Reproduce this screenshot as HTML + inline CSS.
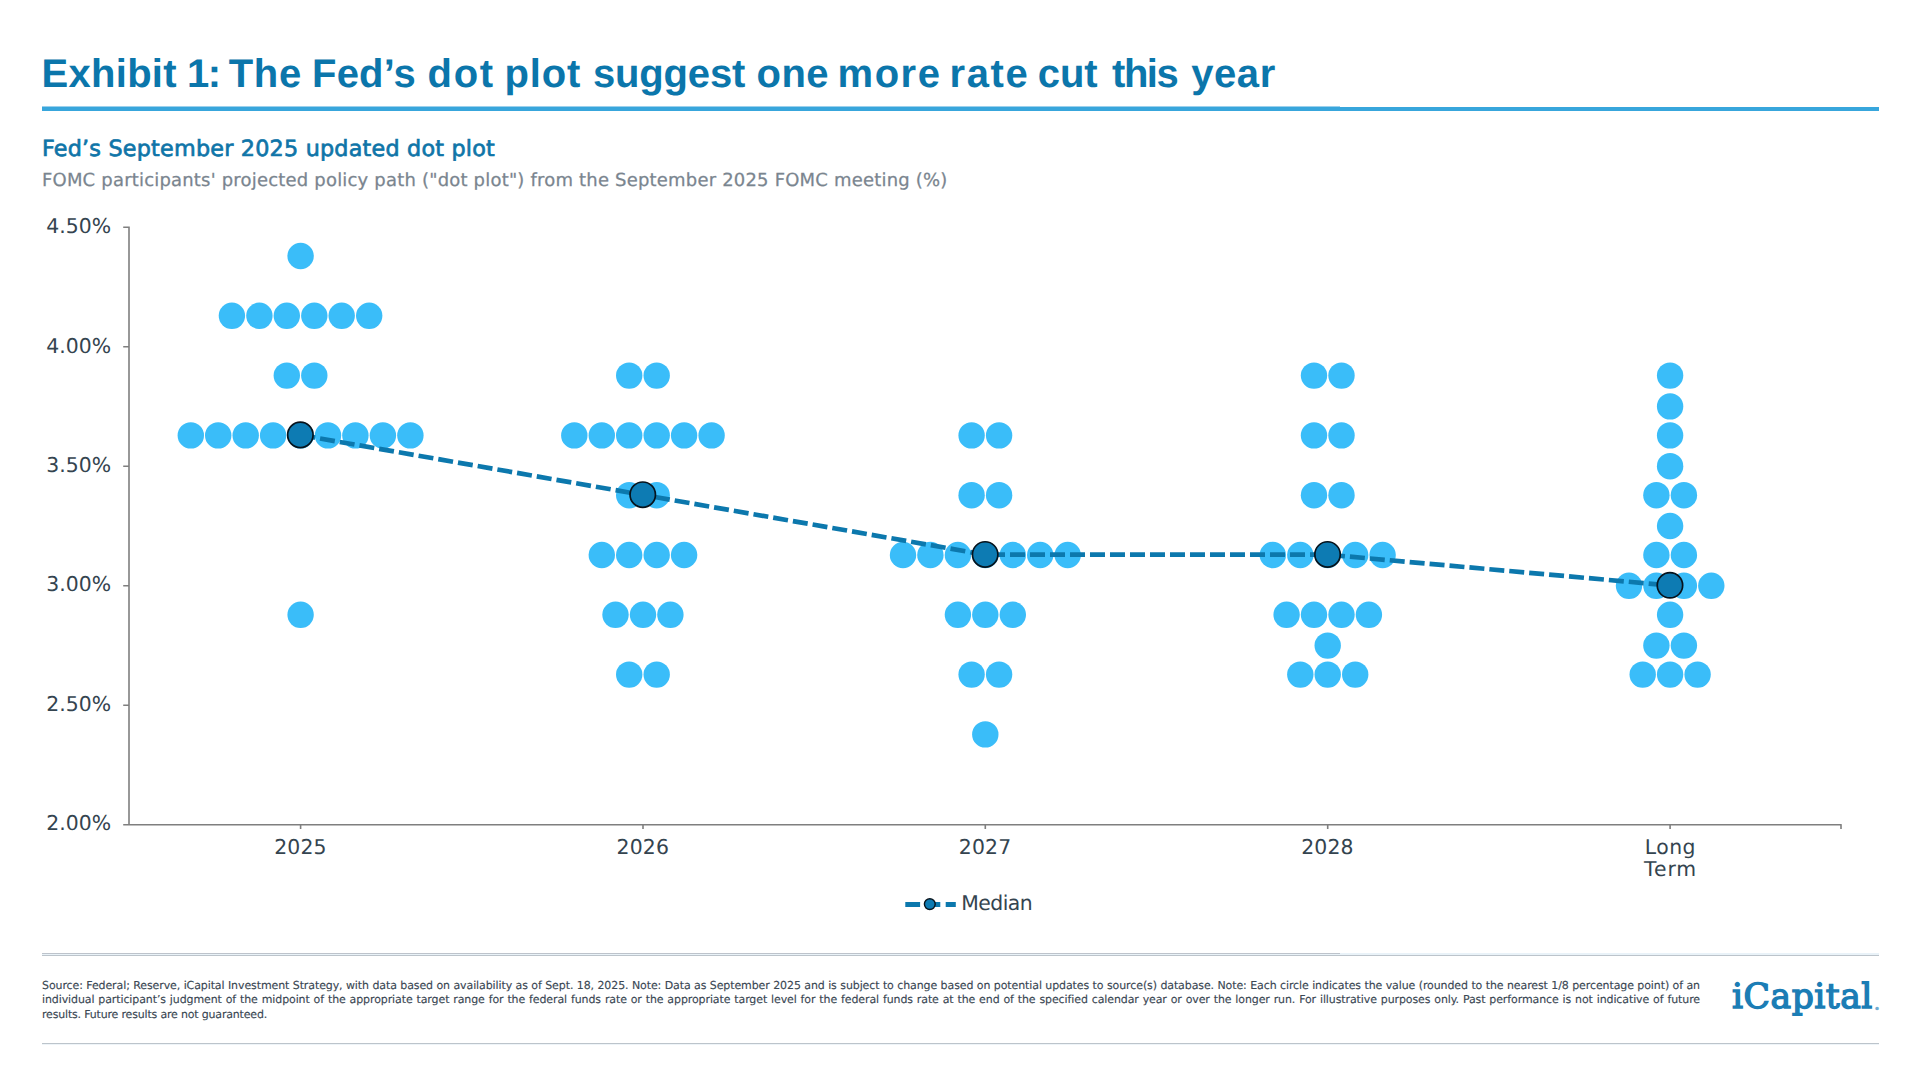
<!DOCTYPE html>
<html lang="en"><head><meta charset="utf-8"><title>Exhibit 1</title>
<style>
html,body{margin:0;padding:0;background:#fff;}
body{width:1920px;height:1080px;position:relative;overflow:hidden;font-family:"DejaVu Sans","Liberation Sans",sans-serif;}
.abs{position:absolute;white-space:nowrap;}
.sk{transform:skewX(0.03deg);transform-origin:0 50%;}
#title{left:0;top:49.5px;width:1400px;height:46px;font:bold 40px/46px "Liberation Sans",sans-serif;color:#0b76ab;}
#title span{position:absolute;top:0;white-space:pre;}
#rule{left:42px;top:107px;width:1837px;height:4px;background:#38a6dc;}
#rule2{left:42px;top:106px;width:1298px;height:1px;background:#9bd0ec;}
#sub{left:42px;top:133.7px;font-size:22.3px;line-height:28px;color:#0f75a8;letter-spacing:0.2px;-webkit-text-stroke:0.7px #0f75a8;}
#desc{left:42px;top:167.5px;font-size:18px;line-height:24px;color:#7a858f;letter-spacing:0.19px;-webkit-text-stroke:0.25px #7a858f;}
.hr{left:42px;width:1837px;height:1px;background:#bcc4cb;}
#foot{left:42px;top:979.2px;width:1658px;font-size:11px;line-height:14.35px;color:#3b4854;letter-spacing:-0.1px;-webkit-text-stroke:0.15px #3b4854;white-space:normal;}
#foot div{text-align:justify;text-align-last:justify;white-space:nowrap;}
#foot div.last{text-align-last:left;letter-spacing:-0.18px;}
#logo{left:1731.7px;top:973.3px;font:34.6px/46px "DejaVu Serif","Liberation Serif",serif;color:#1b7db5;letter-spacing:0.5px;-webkit-text-stroke:1.4px #1b7db5;}
#logo sup{font:4px/6px "DejaVu Sans",sans-serif;position:absolute;left:143px;top:32.6px;letter-spacing:0;color:#6fabd0;-webkit-text-stroke:0.5px #6fabd0;}
svg{position:absolute;left:0;top:0;}
svg text{font-family:"DejaVu Sans","Liberation Sans",sans-serif;font-size:20.4px;fill:#34444f;}
</style></head><body>
<div id="title" class="abs sk"><span style="left:41.5px;letter-spacing:0.29px">Exhibit </span><span style="left:186.9px;letter-spacing:-1.50px">1: </span><span style="left:228.8px;letter-spacing:0.62px">The </span><span style="left:312.0px;letter-spacing:0.19px">Fed’s </span><span style="left:427.4px;letter-spacing:1.80px">dot </span><span style="left:504.5px;letter-spacing:0.83px">plot </span><span style="left:593.0px;letter-spacing:-0.17px">suggest </span><span style="left:756.5px;letter-spacing:0.50px">one </span><span style="left:837.6px;letter-spacing:1.50px">more </span><span style="left:949.5px;letter-spacing:1.58px">rate </span><span style="left:1037.8px;letter-spacing:-0.12px">cut </span><span style="left:1112.1px;letter-spacing:-1.50px">this </span><span style="left:1191.2px;letter-spacing:0.58px">year </span></div>
<div id="rule" class="abs"></div><div id="rule2" class="abs"></div>
<div id="sub" class="abs sk">Fed’s September 2025 updated dot plot</div>
<div id="desc" class="abs sk">FOMC participants' projected policy path ("dot plot") from the September 2025 FOMC meeting (%)</div>
<svg width="1920" height="1080" viewBox="0 0 1920 1080">
<g fill="#3abdf9"><circle cx="300.6" cy="256.0" r="13.2"/><circle cx="231.9" cy="315.8" r="13.2"/><circle cx="259.4" cy="315.8" r="13.2"/><circle cx="286.8" cy="315.8" r="13.2"/><circle cx="314.3" cy="315.8" r="13.2"/><circle cx="341.7" cy="315.8" r="13.2"/><circle cx="369.2" cy="315.8" r="13.2"/><circle cx="286.8" cy="375.6" r="13.2"/><circle cx="314.3" cy="375.6" r="13.2"/><circle cx="190.8" cy="435.4" r="13.2"/><circle cx="218.2" cy="435.4" r="13.2"/><circle cx="245.7" cy="435.4" r="13.2"/><circle cx="273.1" cy="435.4" r="13.2"/><circle cx="300.6" cy="435.4" r="13.2"/><circle cx="328.0" cy="435.4" r="13.2"/><circle cx="355.4" cy="435.4" r="13.2"/><circle cx="382.9" cy="435.4" r="13.2"/><circle cx="410.4" cy="435.4" r="13.2"/><circle cx="300.6" cy="614.8" r="13.2"/><circle cx="629.2" cy="375.6" r="13.2"/><circle cx="656.7" cy="375.6" r="13.2"/><circle cx="574.3" cy="435.4" r="13.2"/><circle cx="601.8" cy="435.4" r="13.2"/><circle cx="629.2" cy="435.4" r="13.2"/><circle cx="656.7" cy="435.4" r="13.2"/><circle cx="684.1" cy="435.4" r="13.2"/><circle cx="711.6" cy="435.4" r="13.2"/><circle cx="629.2" cy="495.2" r="13.2"/><circle cx="656.7" cy="495.2" r="13.2"/><circle cx="601.8" cy="555.0" r="13.2"/><circle cx="629.2" cy="555.0" r="13.2"/><circle cx="656.7" cy="555.0" r="13.2"/><circle cx="684.1" cy="555.0" r="13.2"/><circle cx="615.5" cy="614.8" r="13.2"/><circle cx="643.0" cy="614.8" r="13.2"/><circle cx="670.4" cy="614.8" r="13.2"/><circle cx="629.2" cy="674.6" r="13.2"/><circle cx="656.7" cy="674.6" r="13.2"/><circle cx="971.6" cy="435.4" r="13.2"/><circle cx="999.1" cy="435.4" r="13.2"/><circle cx="971.6" cy="495.2" r="13.2"/><circle cx="999.1" cy="495.2" r="13.2"/><circle cx="903.0" cy="555.0" r="13.2"/><circle cx="930.4" cy="555.0" r="13.2"/><circle cx="957.9" cy="555.0" r="13.2"/><circle cx="985.3" cy="555.0" r="13.2"/><circle cx="1012.8" cy="555.0" r="13.2"/><circle cx="1040.2" cy="555.0" r="13.2"/><circle cx="1067.7" cy="555.0" r="13.2"/><circle cx="957.9" cy="614.8" r="13.2"/><circle cx="985.3" cy="614.8" r="13.2"/><circle cx="1012.8" cy="614.8" r="13.2"/><circle cx="971.6" cy="674.6" r="13.2"/><circle cx="999.1" cy="674.6" r="13.2"/><circle cx="985.3" cy="734.4" r="13.2"/><circle cx="1314.0" cy="375.6" r="13.2"/><circle cx="1341.5" cy="375.6" r="13.2"/><circle cx="1314.0" cy="435.4" r="13.2"/><circle cx="1341.5" cy="435.4" r="13.2"/><circle cx="1314.0" cy="495.2" r="13.2"/><circle cx="1341.5" cy="495.2" r="13.2"/><circle cx="1272.8" cy="555.0" r="13.2"/><circle cx="1300.3" cy="555.0" r="13.2"/><circle cx="1327.7" cy="555.0" r="13.2"/><circle cx="1355.2" cy="555.0" r="13.2"/><circle cx="1382.6" cy="555.0" r="13.2"/><circle cx="1286.6" cy="614.8" r="13.2"/><circle cx="1314.0" cy="614.8" r="13.2"/><circle cx="1341.5" cy="614.8" r="13.2"/><circle cx="1368.9" cy="614.8" r="13.2"/><circle cx="1327.7" cy="645.6" r="13.2"/><circle cx="1300.3" cy="674.6" r="13.2"/><circle cx="1327.7" cy="674.6" r="13.2"/><circle cx="1355.2" cy="674.6" r="13.2"/><circle cx="1670.1" cy="375.6" r="13.2"/><circle cx="1670.1" cy="406.4" r="13.2"/><circle cx="1670.1" cy="435.4" r="13.2"/><circle cx="1670.1" cy="466.2" r="13.2"/><circle cx="1656.4" cy="495.2" r="13.2"/><circle cx="1683.9" cy="495.2" r="13.2"/><circle cx="1670.1" cy="526.0" r="13.2"/><circle cx="1656.4" cy="555.0" r="13.2"/><circle cx="1683.9" cy="555.0" r="13.2"/><circle cx="1629.0" cy="585.8" r="13.2"/><circle cx="1656.4" cy="585.8" r="13.2"/><circle cx="1683.9" cy="585.8" r="13.2"/><circle cx="1711.3" cy="585.8" r="13.2"/><circle cx="1670.1" cy="614.8" r="13.2"/><circle cx="1656.4" cy="645.6" r="13.2"/><circle cx="1683.9" cy="645.6" r="13.2"/><circle cx="1642.7" cy="674.6" r="13.2"/><circle cx="1670.1" cy="674.6" r="13.2"/><circle cx="1697.6" cy="674.6" r="13.2"/></g>
<path d="M129 226.5V825M123.2 824.8H1841.7M123.2 227.3H129M123.2 346.8H129M123.2 466.3H129M123.2 585.7H129M123.2 705.2H129M123.2 824.7H129M300.6 824.8V829M643.0 824.8V829M985.3 824.8V829M1327.7 824.8V829M1670.1 824.8V829M1841 824.8V829" stroke="#7f7f7f" stroke-width="1.6" fill="none"/>
<polyline points="300.35,435.08 642.75,494.88 985.15,554.67 1327.55,554.67 1669.95,585.47" fill="none" stroke="#0c78ad" stroke-width="4.7" stroke-dasharray="15 5" stroke-linejoin="round"/>
<g fill="#0d7bb3" stroke="#07131c" stroke-width="1.7"><circle cx="300.35" cy="434.88" r="12.7"/><circle cx="642.75" cy="494.68" r="12.7"/><circle cx="985.15" cy="554.47" r="12.7"/><circle cx="1327.55" cy="554.47" r="12.7"/><circle cx="1669.95" cy="585.27" r="12.7"/></g>
<g><text x="111.2" y="233.1" text-anchor="end" letter-spacing="0.05" transform="translate(111.2 233.1) skewX(0.03) translate(-111.2 -233.1)">4.50%</text><text x="111.2" y="352.6" text-anchor="end" letter-spacing="0.05" transform="translate(111.2 352.6) skewX(0.03) translate(-111.2 -352.6)">4.00%</text><text x="111.2" y="472.1" text-anchor="end" letter-spacing="0.05" transform="translate(111.2 472.1) skewX(0.03) translate(-111.2 -472.1)">3.50%</text><text x="111.2" y="591.5" text-anchor="end" letter-spacing="0.05" transform="translate(111.2 591.5) skewX(0.03) translate(-111.2 -591.5)">3.00%</text><text x="111.2" y="711.0" text-anchor="end" letter-spacing="0.05" transform="translate(111.2 711.0) skewX(0.03) translate(-111.2 -711.0)">2.50%</text><text x="111.2" y="830.5" text-anchor="end" letter-spacing="0.05" transform="translate(111.2 830.5) skewX(0.03) translate(-111.2 -830.5)">2.00%</text></g>
<g><text x="300.4" y="853.9" text-anchor="middle" letter-spacing="0.15" transform="translate(300.4 853.9) skewX(0.03) translate(-300.4 -853.9)">2025</text><text x="642.8" y="853.9" text-anchor="middle" letter-spacing="0.15" transform="translate(642.8 853.9) skewX(0.03) translate(-642.8 -853.9)">2026</text><text x="985.1" y="853.9" text-anchor="middle" letter-spacing="0.15" transform="translate(985.1 853.9) skewX(0.03) translate(-985.1 -853.9)">2027</text><text x="1327.5" y="853.9" text-anchor="middle" letter-spacing="0.15" transform="translate(1327.5 853.9) skewX(0.03) translate(-1327.5 -853.9)">2028</text><text x="1670.4" y="854.2" text-anchor="middle" letter-spacing="0.5" transform="translate(1670.4 854.2) skewX(0.03) translate(-1670.4 -854.2)">Long</text><text x="1670.6" y="875.8" text-anchor="middle" letter-spacing="0.9" transform="translate(1670.6 875.8) skewX(0.03) translate(-1670.6 -875.8)">Term</text></g>
<path d="M905.3 904.4H955.8" stroke="#0c78ad" stroke-width="5" stroke-dasharray="14.8 5.4" fill="none"/>
<circle cx="929.8" cy="904.1" r="5.4" fill="#0d7bb3" stroke="#07131c" stroke-width="1.4"/>
<text x="961.3" y="910.4" letter-spacing="-0.55" transform="translate(961.3 910.4) skewX(0.03) translate(-961.3 -910.4)">Median</text>
</svg>
<div class="abs hr" style="top:953px;height:2px;background:#e9f2f8"></div><div class="abs hr" style="top:953px;width:1298px;background:#bdc3cb"></div><div class="abs hr" style="top:955px"></div>
<div id="foot" class="abs sk">
<div>Source: Federal; Reserve, iCapital Investment Strategy, with data based on availability as of Sept. 18, 2025. Note: Data as September 2025 and is subject to change based on potential updates to source(s) database. Note: Each circle indicates the value (rounded to the nearest 1/8 percentage point) of an</div>
<div>individual participant’s judgment of the midpoint of the appropriate target range for the federal funds rate or the appropriate target level for the federal funds rate at the end of the specified calendar year or over the longer run. For illustrative purposes only. Past performance is not indicative of future</div>
<div class="last">results. Future results are not guaranteed.</div>
</div>
<div id="logo" class="abs sk">iCapital<sup>®</sup></div>
<div class="abs hr" style="top:1043px"></div><div class="abs hr" style="top:1044px;background:#eef4f8"></div>
</body></html>
